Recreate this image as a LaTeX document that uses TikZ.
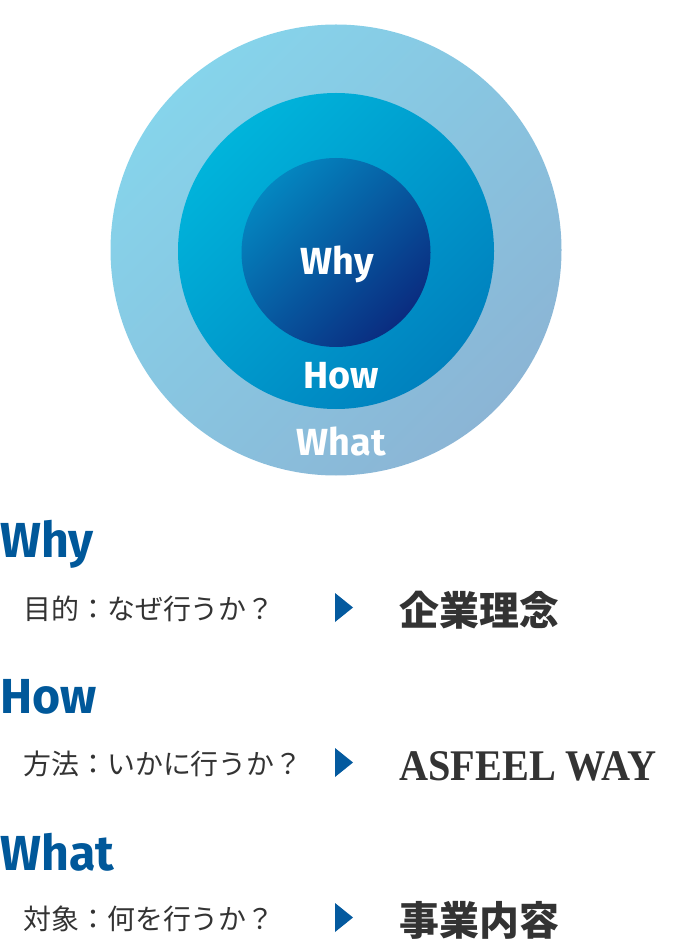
\documentclass[tikz,border=0pt]{standalone}
\usepackage{fontspec}
\setmainfont{Liberation Serif}
\newfontfamily\headfont[FakeStretch=0.98]{Fira Sans}
\newfontfamily\ringfont{Fira Sans}
\newfontfamily\jpfont{Noto Sans CJK JP}
\newfontfamily\wayfont[FakeStretch=0.92]{Liberation Serif}
\definecolor{headblue}{HTML}{00589A}
\definecolor{triblue}{HTML}{045A9F}
\definecolor{textgray}{HTML}{333333}
\tikzset{
  ringlabel/.style={anchor=base,text=white,font=\ringfont\bfseries\fontsize{21.5pt}{24pt}\selectfont},
  head/.style={anchor=base west,text=headblue,font=\headfont\bfseries\fontsize{28pt}{30pt}\selectfont},
  jptext/.style={anchor=base west,text=textgray,font=\jpfont\fontsize{15.9pt}{17pt}\selectfont},
  bigtext/.style={anchor=base west,text=textgray,font=\jpfont\bfseries\fontsize{22.7pt}{24pt}\selectfont},
  waytext/.style={anchor=base west,text=textgray,font=\wayfont\bfseries\fontsize{24.9pt}{27pt}\selectfont},
  tri/.style={fill=triblue}
}
\begin{document}
\begin{tikzpicture}[x=0.02cm,y=0.02cm]
\tikzstyle{every node}+=[inner sep=0pt]
\useasboundingbox (0,0) rectangle (695,-952);
\coordinate (c0) at (336,-250);
\coordinate (c1) at (336,-251);
\coordinate (c2) at (336,-252.5);
\shade [top color={rgb,255:red,134;green,212;blue,235}, bottom color={rgb,255:red,139;green,181;blue,213}, shading angle=45] (c0) circle (225.5);
\shade [top color={rgb,255:red,0;green,180;blue,219}, bottom color={rgb,255:red,0;green,129;blue,190}, shading angle=45] (c1) circle (158);
\shade [top color={rgb,255:red,4;green,134;blue,192}, bottom color={rgb,255:red,10;green,44;blue,128}, shading angle=45] (c2) circle (94.5);
\node [ringlabel] (rwhy) at (337.5,-275) {Why};
\node [ringlabel] (rhow) at (341,-388) {How};
\node [ringlabel] (rwhat) at (341.5,-455) {What};
\node [head] (hwhy) at (0,-557) {Why};
\node [jptext] (qwhy) at (23,-619) {目的：なぜ行うか？};
\coordinate (a1) at (344,-607.5);
\fill [tri] (a1) ++(-9,14.5) -- ++(18,-14.5) -- ++(-18,-14.5) -- cycle;
\node [bigtext] (awhy) at (399,-625) {企業理念};
\node [head] (hhow) at (0,-713) {How};
\node [jptext] (qhow) at (23,-774) {方法：いかに行うか？};
\coordinate (a2) at (344,-762.5);
\fill [tri] (a2) ++(-9,14.5) -- ++(18,-14.5) -- ++(-18,-14.5) -- cycle;
\node [waytext] (ahow) at (399,-780) {ASFEEL WAY};
\node [head] (hwhat) at (0,-870) {What};
\node [jptext] (qwhat) at (23,-929) {対象：何を行うか？};
\coordinate (a3) at (344,-917.5);
\fill [tri] (a3) ++(-9,14.5) -- ++(18,-14.5) -- ++(-18,-14.5) -- cycle;
\node [bigtext] (awhat) at (399,-935) {事業内容};
\end{tikzpicture}
\end{document}
